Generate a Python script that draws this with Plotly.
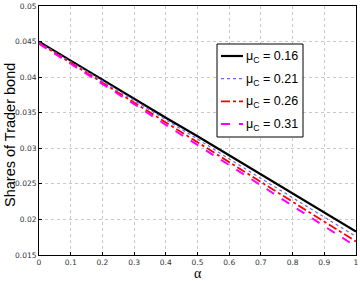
import plotly.graph_objects as go

alpha = [0.0, 0.1, 0.2, 0.3, 0.4, 0.5, 0.6, 0.7, 0.8, 0.9, 1.0]
s016 = [0.0450, 0.0423, 0.0397, 0.0370, 0.0343, 0.0317, 0.0290, 0.0263, 0.0236, 0.0210, 0.0183]
s021 = [0.0449, 0.0422, 0.0394, 0.0367, 0.0340, 0.0313, 0.0285, 0.0258, 0.0231, 0.0203, 0.0176]
s026 = [0.0448, 0.0420, 0.0392, 0.0364, 0.0336, 0.0309, 0.0281, 0.0253, 0.0225, 0.0197, 0.0169]
s031 = [0.0447, 0.0419, 0.0390, 0.0362, 0.0333, 0.0305, 0.0276, 0.0248, 0.0219, 0.0191, 0.0162]
names = ["μ<sub>C</sub> = 0.16", "μ<sub>C</sub> = 0.21", "μ<sub>C</sub> = 0.26", "μ<sub>C</sub> = 0.31"]
xticks = [0, 0.1, 0.2, 0.3, 0.4, 0.5, 0.6, 0.7, 0.8, 0.9, 1]
yticks = [0.015, 0.02, 0.025, 0.03, 0.035, 0.04, 0.045, 0.05]

W, H = 360, 281
L, R, T, B = 39, 4, 6, 26
pw, ph = W - L - R, H - T - B


def px(x):
    return (x - L) / pw


def py(y):
    return (H - B - y) / ph


styles = [("black", "solid", 2.2), ("#6666ff", "dot", 1.2), ("red", "dashdot", 1.8), ("magenta", "dash", 2.0)]
fig = go.Figure()
for ys, nm, (c, d, w) in zip([s016, s021, s026, s031], names, styles):
    fig.add_trace(go.Scatter(x=alpha, y=ys, mode="lines", name=nm, showlegend=False,
                             line=dict(color=c, dash=d, width=w)))

tickfont = dict(family="DejaVu Sans", size=7.5, color="#333")
axis_common = dict(showline=True, linecolor="black", linewidth=1, mirror=True,
                   ticks="inside", ticklen=3, tickcolor="black",
                   showgrid=True, gridcolor="#c8c8c8", griddash="dot", gridwidth=1,
                   zeroline=False, tickfont=tickfont, automargin=False)
fig.update_xaxes(range=[0, 1], tickvals=xticks, ticktext=[str(t) for t in xticks], **axis_common)
fig.update_yaxes(range=[0.015, 0.05], tickvals=yticks, ticktext=[str(t) for t in yticks], **axis_common)

# axis titles
fig.add_annotation(text="α", x=px(198), y=py(273), xref="paper", yref="paper",
                   showarrow=False, xanchor="center", yanchor="middle",
                   font=dict(family="Liberation Serif", size=14, color="black"))
fig.add_annotation(text="Shares of Trader bond", x=px(10), y=py(135), xref="paper", yref="paper",
                   showarrow=False, xanchor="center", yanchor="middle", textangle=-90,
                   font=dict(family="Liberation Sans", size=14.5, color="black"))

# legend box
fig.add_shape(type="rect", xref="paper", yref="paper",
              x0=px(217), x1=px(303), y0=py(137), y1=py(44),
              line=dict(color="black", width=1), fillcolor="white", layer="above")
rows = [56, 78.7, 101.3, 124]
for nm, (c, d, w), ry in zip(names, styles, rows):
    fig.add_shape(type="line", xref="paper", yref="paper",
                  x0=px(221), x1=px(243), y0=py(ry), y1=py(ry),
                  line=dict(color=c, dash=d, width=w), layer="above")
    fig.add_annotation(text=nm, x=px(244), y=py(ry + 1), xref="paper", yref="paper",
                       showarrow=False, xanchor="left", yanchor="middle",
                       font=dict(family="Liberation Sans", size=12.5, color="black"))

fig.update_layout(width=W, height=H, margin=dict(l=L, r=R, t=T, b=B),
                  plot_bgcolor="white", paper_bgcolor="white", showlegend=False)
fig.write_html("out.html", config={"displayModeBar": False},
               post_script="document.body.style.margin='0';document.body.style.overflow='hidden';")
